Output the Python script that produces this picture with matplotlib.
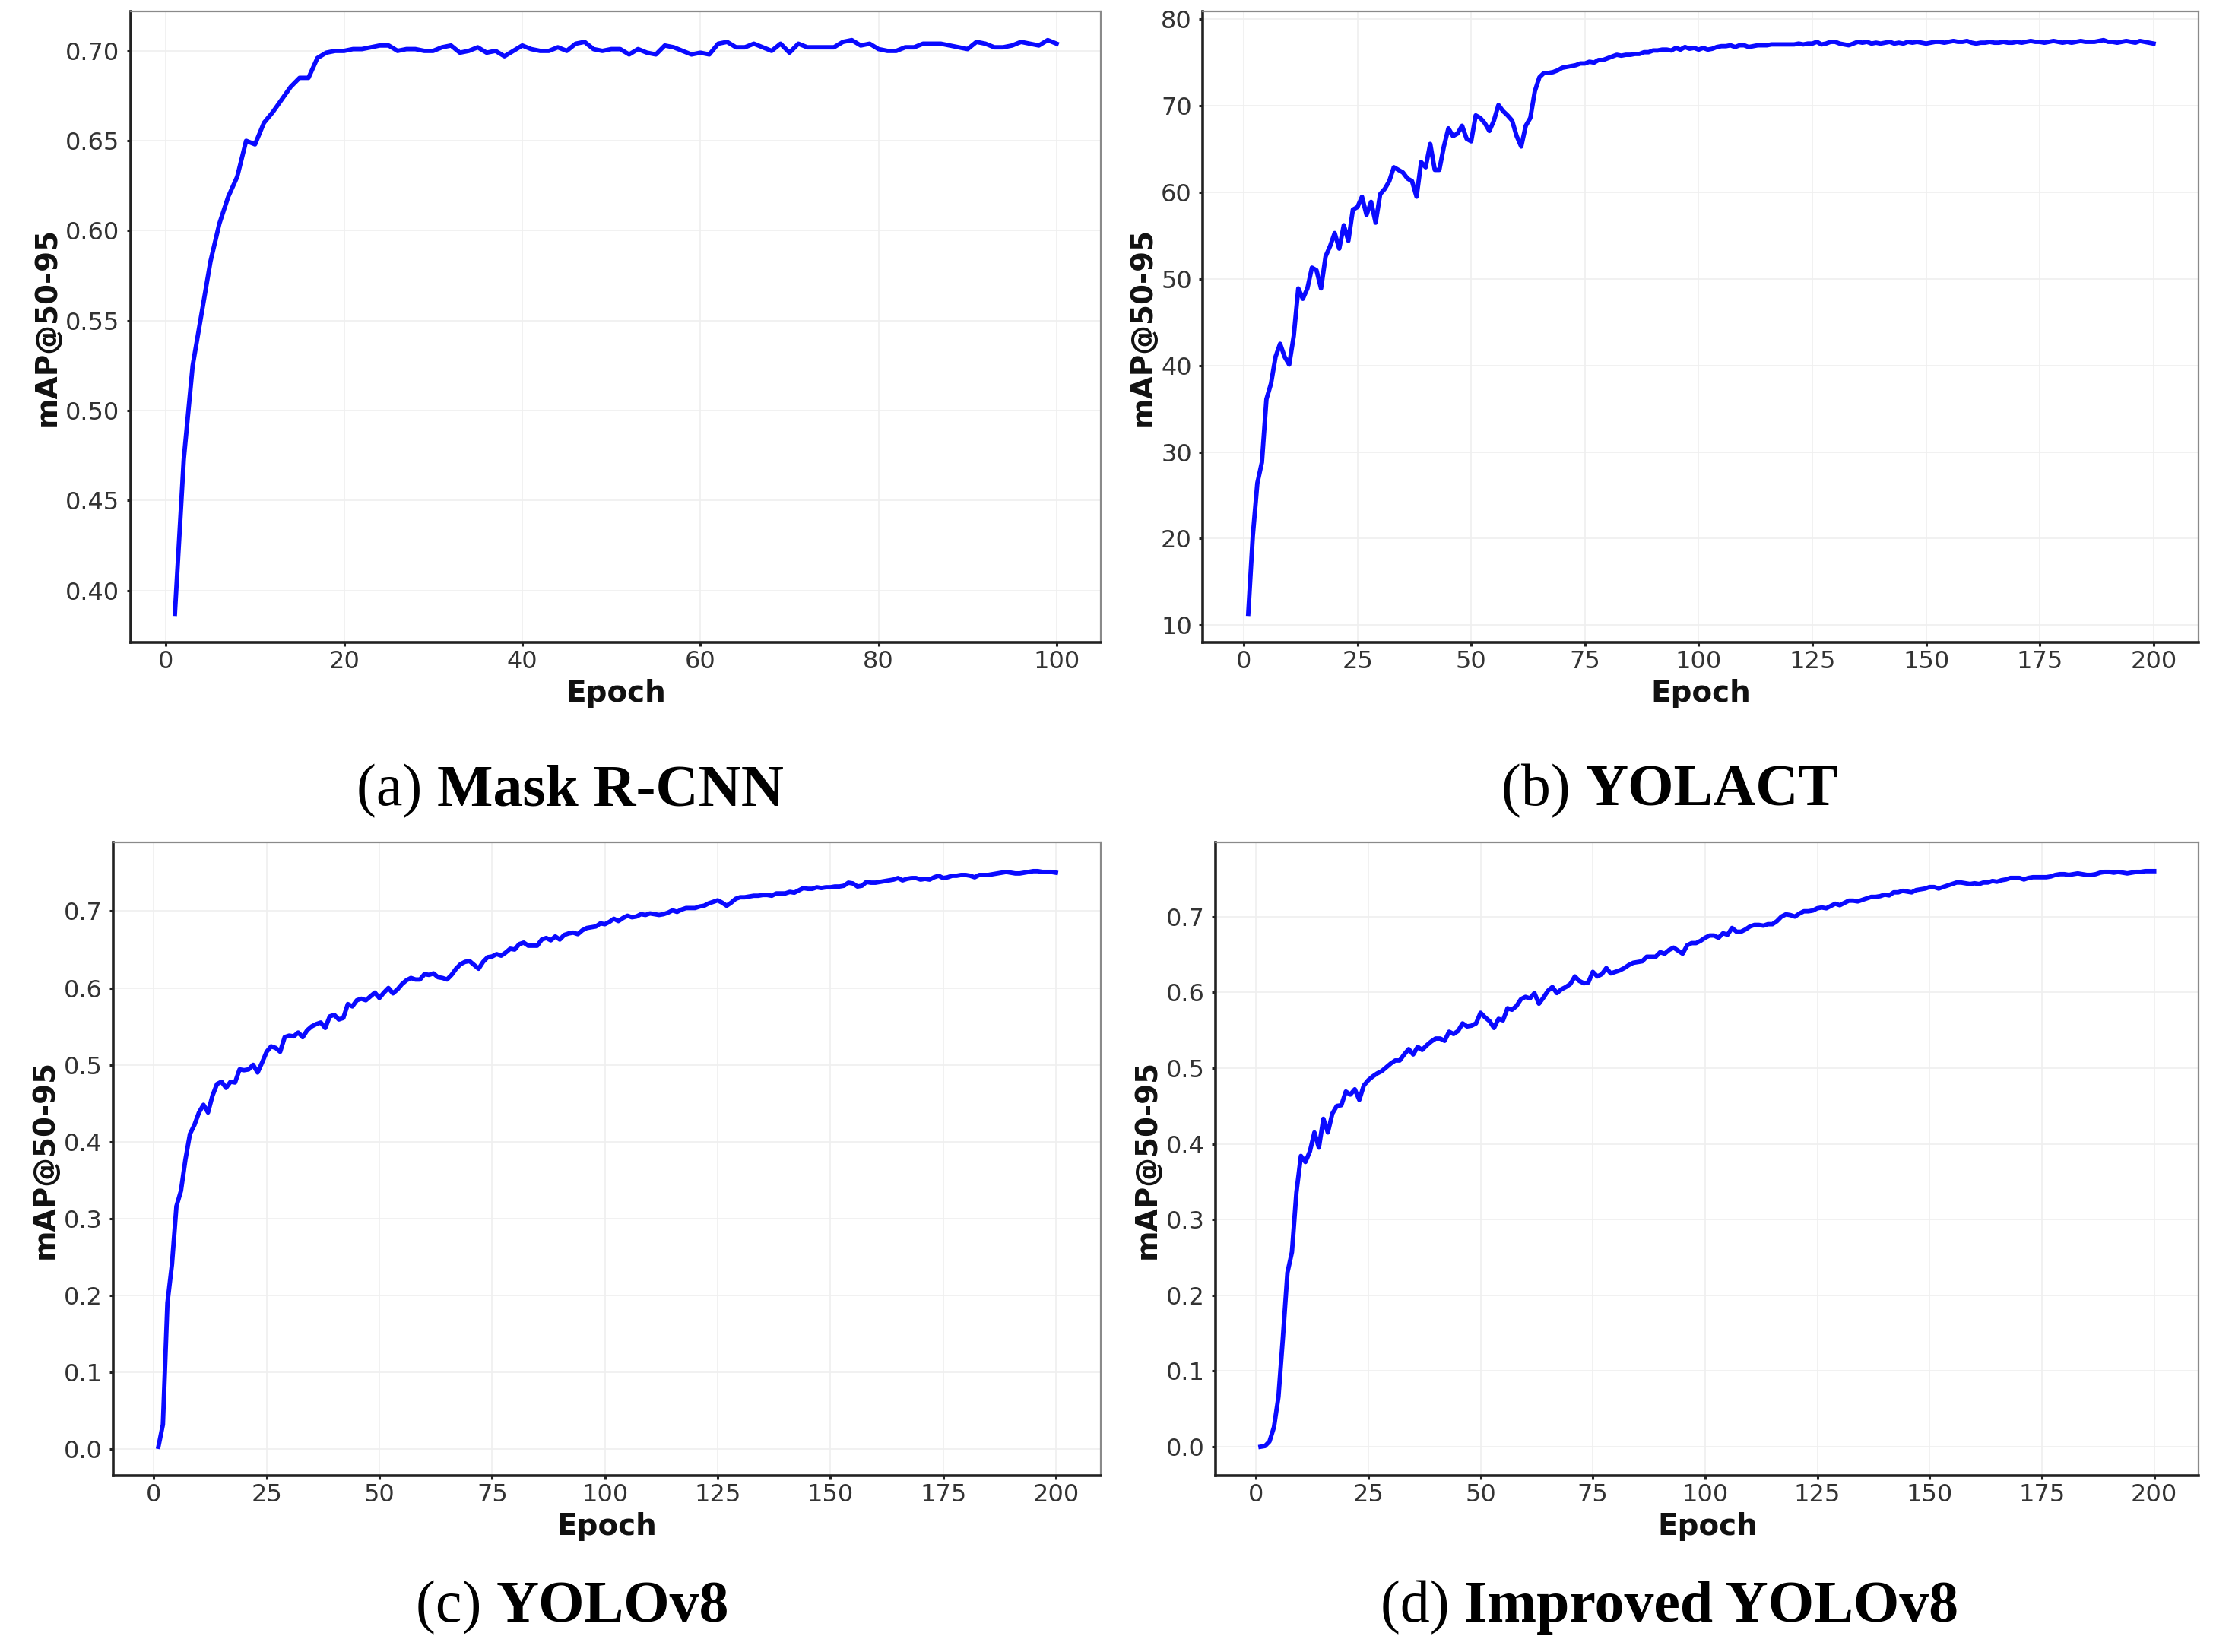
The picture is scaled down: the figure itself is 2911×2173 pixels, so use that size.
import matplotlib
matplotlib.use("Agg")
import matplotlib.pyplot as plt
import numpy as np

# ---------------- data ----------------
epochs_a = list(range(1, 101))
map_mask_rcnn = [
    0.387, 0.473, 0.525, 0.554, 0.583, 0.604, 0.619, 0.630, 0.650, 0.648,
    0.660, 0.666, 0.673, 0.680, 0.685, 0.685, 0.696, 0.699, 0.700, 0.700,
    0.701, 0.701, 0.702, 0.703, 0.703, 0.700, 0.701, 0.701, 0.700, 0.700,
    0.702, 0.703, 0.699, 0.700, 0.702, 0.699, 0.700, 0.697, 0.700, 0.703,
    0.701, 0.700, 0.700, 0.702, 0.700, 0.704, 0.705, 0.701, 0.700, 0.701,
    0.701, 0.698, 0.701, 0.699, 0.698, 0.703, 0.702, 0.700, 0.698, 0.699,
    0.698, 0.704, 0.705, 0.702, 0.702, 0.704, 0.702, 0.700, 0.704, 0.699,
    0.704, 0.702, 0.702, 0.702, 0.702, 0.705, 0.706, 0.703, 0.704, 0.701,
    0.700, 0.700, 0.702, 0.702, 0.704, 0.704, 0.704, 0.703, 0.702, 0.701,
    0.705, 0.704, 0.702, 0.702, 0.703, 0.705, 0.704, 0.703, 0.706, 0.704,
]

epochs_b = list(range(1, 201))
map_yolact = [
    11.3, 20.3, 26.4, 28.8, 36.1, 37.9, 41.0, 42.5, 41.0, 40.1,
    43.4, 48.9, 47.7, 48.9, 51.3, 51.0, 48.9, 52.6, 53.8, 55.3,
    53.5, 56.2, 54.4, 58.0, 58.3, 59.5, 57.4, 58.9, 56.5, 59.8,
    60.4, 61.3, 62.9, 62.6, 62.3, 61.6, 61.3, 59.5, 63.5, 62.9,
    65.6, 62.6, 62.6, 65.3, 67.4, 66.5, 66.8, 67.7, 66.2, 65.9,
    68.9, 68.6, 68.0, 67.1, 68.3, 70.1, 69.4, 68.9, 68.3, 66.5,
    65.3, 67.7, 68.6, 71.7, 73.3, 73.8, 73.8, 73.9, 74.1, 74.4,
    74.5, 74.6, 74.7, 74.9, 74.9, 75.1, 75.0, 75.3, 75.3, 75.5,
    75.7, 75.9, 75.8, 75.9, 75.9, 76.0, 76.0, 76.2, 76.2, 76.4,
    76.4, 76.5, 76.5, 76.4, 76.7, 76.5, 76.8, 76.6, 76.7, 76.5,
    76.7, 76.5, 76.6, 76.8, 76.9, 76.9, 77.0, 76.8, 77.0, 77.0,
    76.8, 76.9, 77.0, 77.0, 77.0, 77.1, 77.1, 77.1, 77.1, 77.1,
    77.1, 77.2, 77.1, 77.2, 77.2, 77.4, 77.1, 77.2, 77.4, 77.4,
    77.2, 77.1, 77.0, 77.2, 77.4, 77.3, 77.4, 77.2, 77.3, 77.2,
    77.3, 77.4, 77.2, 77.3, 77.2, 77.4, 77.3, 77.4, 77.3, 77.2,
    77.3, 77.4, 77.4, 77.3, 77.4, 77.5, 77.4, 77.4, 77.5, 77.3,
    77.2, 77.3, 77.3, 77.4, 77.3, 77.3, 77.4, 77.3, 77.3, 77.4,
    77.3, 77.4, 77.5, 77.4, 77.4, 77.3, 77.4, 77.5, 77.4, 77.3,
    77.4, 77.3, 77.4, 77.5, 77.4, 77.4, 77.4, 77.5, 77.6, 77.4,
    77.4, 77.3, 77.4, 77.5, 77.4, 77.3, 77.5, 77.4, 77.3, 77.2,
]

epochs_c = list(range(1, 201))
map_yolov8 = [
    0.003, 0.032, 0.190, 0.240, 0.316, 0.336, 0.377, 0.410, 0.422, 0.438,
    0.448, 0.438, 0.460, 0.475, 0.478, 0.470, 0.478, 0.477, 0.494, 0.493,
    0.494, 0.500, 0.490, 0.503, 0.517, 0.524, 0.522, 0.517, 0.536, 0.538,
    0.537, 0.542, 0.536, 0.545, 0.550, 0.553, 0.555, 0.548, 0.563, 0.565,
    0.559, 0.561, 0.579, 0.576, 0.584, 0.586, 0.584, 0.589, 0.594, 0.587,
    0.594, 0.600, 0.593, 0.598, 0.605, 0.610, 0.613, 0.611, 0.611, 0.618,
    0.617, 0.619, 0.614, 0.613, 0.611, 0.617, 0.625, 0.631, 0.634, 0.635,
    0.630, 0.625, 0.634, 0.640, 0.641, 0.644, 0.642, 0.646, 0.651, 0.650,
    0.657, 0.659, 0.655, 0.655, 0.655, 0.663, 0.665, 0.662, 0.667, 0.663,
    0.669, 0.671, 0.672, 0.670, 0.675, 0.678, 0.679, 0.680, 0.684, 0.683,
    0.686, 0.690, 0.687, 0.691, 0.694, 0.692, 0.693, 0.696, 0.695, 0.697,
    0.696, 0.695, 0.696, 0.698, 0.701, 0.699, 0.702, 0.704, 0.704, 0.704,
    0.706, 0.707, 0.710, 0.712, 0.714, 0.711, 0.707, 0.711, 0.716, 0.718,
    0.718, 0.719, 0.720, 0.720, 0.721, 0.721, 0.720, 0.723, 0.723, 0.723,
    0.725, 0.724, 0.727, 0.730, 0.729, 0.729, 0.731, 0.730, 0.731, 0.731,
    0.732, 0.732, 0.733, 0.737, 0.736, 0.732, 0.733, 0.738, 0.737, 0.737,
    0.738, 0.739, 0.740, 0.741, 0.743, 0.740, 0.742, 0.743, 0.743, 0.741,
    0.742, 0.741, 0.744, 0.746, 0.743, 0.744, 0.746, 0.746, 0.747, 0.747,
    0.746, 0.744, 0.747, 0.747, 0.747, 0.748, 0.749, 0.750, 0.751, 0.750,
    0.749, 0.749, 0.750, 0.751, 0.752, 0.752, 0.751, 0.751, 0.751, 0.750,
]

epochs_d = list(range(1, 201))
map_improved = [
    0.000, 0.001, 0.007, 0.026, 0.066, 0.145, 0.230, 0.257, 0.336, 0.384,
    0.376, 0.390, 0.415, 0.395, 0.433, 0.415, 0.440, 0.450, 0.451, 0.469,
    0.465, 0.472, 0.458, 0.477, 0.484, 0.489, 0.493, 0.496, 0.501, 0.506,
    0.510, 0.510, 0.518, 0.525, 0.518, 0.528, 0.524, 0.530, 0.535, 0.539,
    0.539, 0.536, 0.548, 0.545, 0.549, 0.559, 0.555, 0.556, 0.559, 0.573,
    0.567, 0.562, 0.553, 0.565, 0.563, 0.579, 0.577, 0.582, 0.591, 0.594,
    0.592, 0.599, 0.585, 0.593, 0.602, 0.607, 0.599, 0.604, 0.607, 0.611,
    0.621, 0.615, 0.612, 0.613, 0.627, 0.621, 0.624, 0.632, 0.625, 0.627,
    0.629, 0.632, 0.636, 0.639, 0.640, 0.641, 0.647, 0.647, 0.647, 0.653,
    0.651, 0.656, 0.659, 0.655, 0.651, 0.662, 0.665, 0.665, 0.668, 0.672,
    0.675, 0.675, 0.672, 0.678, 0.676, 0.685, 0.680, 0.680, 0.683, 0.687,
    0.689, 0.689, 0.688, 0.690, 0.690, 0.694, 0.700, 0.703, 0.702, 0.700,
    0.704, 0.707, 0.707, 0.708, 0.711, 0.712, 0.711, 0.714, 0.717, 0.715,
    0.718, 0.721, 0.721, 0.720, 0.722, 0.724, 0.726, 0.726, 0.727, 0.729,
    0.728, 0.732, 0.732, 0.734, 0.733, 0.732, 0.735, 0.736, 0.737, 0.739,
    0.739, 0.737, 0.739, 0.741, 0.743, 0.745, 0.745, 0.744, 0.743, 0.744,
    0.743, 0.745, 0.745, 0.747, 0.746, 0.748, 0.749, 0.751, 0.751, 0.751,
    0.749, 0.751, 0.752, 0.752, 0.752, 0.752, 0.753, 0.755, 0.756, 0.756,
    0.755, 0.756, 0.757, 0.756, 0.755, 0.755, 0.756, 0.758, 0.759, 0.759,
    0.758, 0.759, 0.758, 0.757, 0.758, 0.759, 0.759, 0.760, 0.760, 0.760,
]

captions_prefix = ["(a) ", "(b) ", "(c) ", "(d) "]
captions_name = ["Mask R-CNN", "YOLACT", "YOLOv8", "Improved YOLOv8"]
xlabel_text = "Epoch"
ylabel_text = "mAP@50-95"

xticks_a = [0, 20, 40, 60, 80, 100]
xticks_200 = [0, 25, 50, 75, 100, 125, 150, 175, 200]
yticks_a = [0.40, 0.45, 0.50, 0.55, 0.60, 0.65, 0.70]
yticks_b = [10, 20, 30, 40, 50, 60, 70, 80]
yticks_cd = [0.0, 0.1, 0.2, 0.3, 0.4, 0.5, 0.6, 0.7]

# ---------------- figure ----------------
W, H = 2911, 2173
DPI = 100
fig = plt.figure(figsize=(W / DPI, H / DPI), dpi=DPI, facecolor="white")

rects = [
    [0.0591, 0.6111, 0.4974 - 0.0591, 0.9931 - 0.6111],
    [0.5436, 0.6111, 0.9936 - 0.5436, 0.9931 - 0.6111],
    [0.0513, 0.1068, 0.4974 - 0.0513, 0.4901 - 0.1068],
    [0.5494, 0.1068, 0.9936 - 0.5494, 0.4901 - 0.1068],
]

series = [
    (epochs_a, map_mask_rcnn, xticks_a, yticks_a, "{:.2f}"),
    (epochs_b, map_yolact, xticks_200, yticks_b, "{:d}"),
    (epochs_c, map_yolov8, xticks_200, yticks_cd, "{:.1f}"),
    (epochs_d, map_improved, xticks_200, yticks_cd, "{:.1f}"),
]

LINE_COLOR = "#0a0aff"
TICK_COLOR = "#333333"

for rect, (xs, ys, xt, yt, fmt) in zip(rects, series):
    ax = fig.add_axes(rect)
    ax.plot(xs, ys, color=LINE_COLOR, lw=4.2, solid_joinstyle="round", zorder=3)
    ax.set_xticks(xt)
    ax.set_yticks(yt)
    ax.set_yticklabels([fmt.format(v) for v in yt])
    ax.grid(True, color="#efefef", lw=1.2, zorder=0)
    ax.set_axisbelow(True)
    for side in ["left", "bottom"]:
        ax.spines[side].set_color("#222222")
        ax.spines[side].set_linewidth(2.6)
    for side in ["top", "right"]:
        ax.spines[side].set_color("#8a8a8a")
        ax.spines[side].set_linewidth(1.6)
    ax.tick_params(axis="both", which="both", direction="out", length=3.5,
                   width=2.2, color="#222222", labelsize=23, labelcolor=TICK_COLOR)
    ax.tick_params(axis="x", pad=4, top=False)
    ax.tick_params(axis="y", pad=7, right=False)
    ax.set_xlabel(xlabel_text, fontsize=28, fontweight="bold", color="#111111", labelpad=5)
    ax.set_ylabel(ylabel_text, fontsize=28, fontweight="bold", color="#111111", labelpad=4)

# ---------------- captions ----------------
cap_pos = [(0.2577, 0.521), (0.7545, 0.521), (0.2587, 0.0268), (0.7545, 0.0268)]
SERIF = ["Liberation Serif", "DejaVu Serif"]
CAP_SIZE = 56
fig.canvas.draw()
renderer = fig.canvas.get_renderer()
for (cx, cy), pre, name in zip(cap_pos, captions_prefix, captions_name):
    t1 = fig.text(0, cy, pre, fontsize=CAP_SIZE, family=SERIF, fontweight="normal",
                  ha="left", va="center", color="black")
    t2 = fig.text(0, cy, name, fontsize=CAP_SIZE, family=SERIF, fontweight="bold",
                  ha="left", va="center", color="black")
    w1 = t1.get_window_extent(renderer).width / W
    w2 = t2.get_window_extent(renderer).width / W
    x0 = cx - (w1 + w2) / 2
    t1.set_x(x0)
    t2.set_x(x0 + w1)

fig.savefig("out.png", dpi=DPI, facecolor="white")
